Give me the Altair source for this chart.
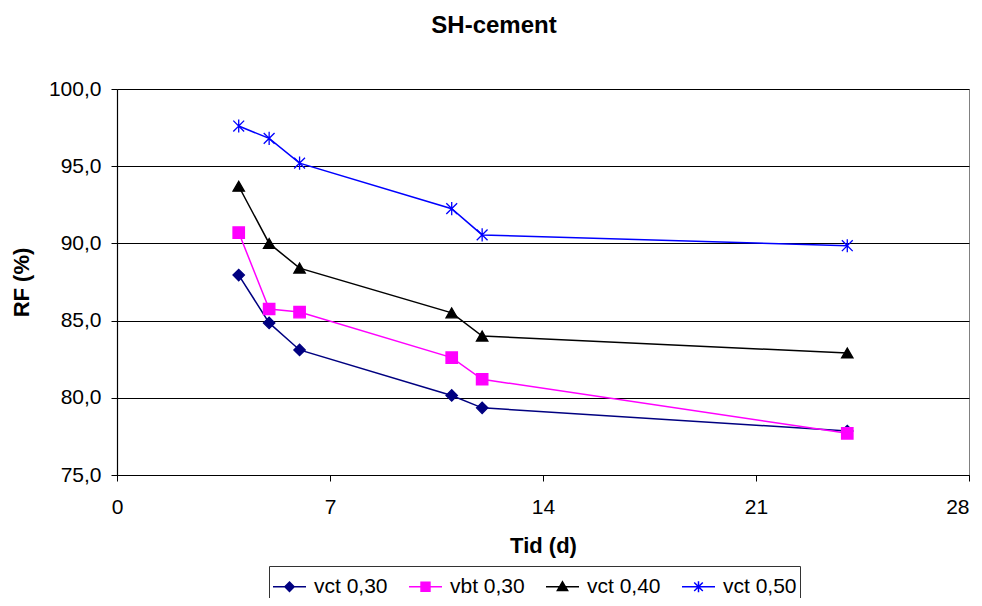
import altair as alt
import pandas as pd

days = [4, 5, 6, 11, 12, 24]
series_names = ["vct 0,30", "vbt 0,30", "vct 0,40", "vct 0,50"]
vct030 = [87.95, 84.85, 83.1, 80.15, 79.35, 77.85]
vbt030 = [90.7, 85.75, 85.55, 82.6, 81.2, 77.7]
vct040 = [93.7, 90.0, 88.4, 85.5, 84.0, 82.9]
vct050 = [97.6, 96.8, 95.2, 92.25, 90.55, 89.85]
y_ticks = [75, 80, 85, 90, 95, 100]
x_ticks = [0, 7, 14, 21, 28]

colors = ["#000080", "#FF00FF", "#000000", "#0000FF"]
point_shapes = ["diamond", "square", "triangle-up",
                "M-0.95,-0.95L0.95,0.95M-0.95,0.95L0.95,-0.95M0,-1.15V1.15"]
legend_shapes = [
    "M-1,0H1M0,-0.28L0.28,0L0,0.28L-0.28,0Z",
    "M-1,0H1M-0.27,-0.27H0.27V0.27H-0.27Z",
    "M-1,0H1M0,-0.3L0.31,0.22L-0.31,0.22Z",
    "M-1,0H1M-0.26,-0.26L0.26,0.26M-0.26,0.26L0.26,-0.26M0,-0.33V0.33",
]

rows = []
for name, vals in zip(series_names, [vct030, vbt030, vct040, vct050]):
    for d, v in zip(days, vals):
        rows.append({"series": name, "tid": d, "rf": v})
df = pd.DataFrame(rows)

FONT = "Liberation Sans"

x_enc = alt.X("tid:Q", scale=alt.Scale(domain=[0, 28], nice=False, zero=False),
              axis=alt.Axis(values=x_ticks, grid=False, title="Tid (d)", tickSize=6,
                            labelFontSize=21, labelPadding=15, titleFontSize=22,
                            titlePadding=18, labelFlush=False,
                            labelAlign=alt.condition("datum.value == 28", alt.value("right"), alt.value("center"))))
y_enc = alt.Y("rf:Q", scale=alt.Scale(domain=[75, 100], nice=False, zero=False),
              axis=alt.Axis(values=y_ticks, grid=True, gridColor="black", gridOpacity=1,
                            title="RF (%)", tickSize=6,
                            labelExpr="replace(format(datum.value, '.1f'), '.', ',')",
                            labelFontSize=21, labelPadding=10, titleFontSize=22,
                            titlePadding=15, labelFlush=False))

cscale = alt.Scale(domain=series_names, range=colors)

lines = alt.Chart(df).mark_line(strokeWidth=1.5).encode(
    x=x_enc, y=y_enc,
    color=alt.Color("series:N", scale=cscale, legend=None),
    detail="series:N",
)

points = alt.Chart(df).mark_point(filled=True, size=130, opacity=1, strokeWidth=1.3).encode(
    x=x_enc, y=y_enc,
    color=alt.Color("series:N", scale=cscale, legend=None),
    stroke=alt.Stroke("series:N", scale=cscale, legend=None),
    shape=alt.Shape("series:N", scale=alt.Scale(domain=series_names, range=point_shapes), legend=None),
)

leg = alt.Legend(title=None, orient="none", legendX=152, legendY=477, direction="horizontal",
                 symbolSize=1089, symbolStrokeWidth=1.5, labelFontSize=21, labelFont=FONT,
                 labelColor="black", labelOffset=7, columnPadding=18, padding=3,
                 strokeColor="#333333", fillColor="white", symbolOpacity=1)

legend_layer = alt.Chart(df).transform_filter("false").mark_point(filled=True, opacity=1).encode(
    fill=alt.Fill("series:N", scale=cscale, legend=leg),
    stroke=alt.Stroke("series:N", scale=cscale, legend=leg),
    shape=alt.Shape("series:N", scale=alt.Scale(domain=series_names, range=legend_shapes), legend=leg),
)

chart = alt.layer(lines, points, legend_layer).resolve_scale(
    color="independent", shape="independent", stroke="independent", fill="independent"
).properties(
    width=852, height=386,
    background="white",
    autosize=alt.AutoSizeParams(type="none"),
    padding={"left": 109, "top": 81, "right": 5, "bottom": 123},
    title=alt.TitleParams("SH-cement", fontSize=24, font=FONT, fontWeight="bold",
                          anchor="middle", dx=-49, offset=40, color="black"),
).configure_view(stroke="#808080", strokeWidth=1).configure_axis(
    labelFont=FONT, titleFont=FONT, labelColor="black", titleColor="black",
    titleFontWeight="bold", domainColor="black", tickColor="black", gridColor="black",
    gridWidth=1, domainWidth=1.2, gridOpacity=1,
)

chart.save("out.html", embed_options={"renderer": "svg", "actions": False})
